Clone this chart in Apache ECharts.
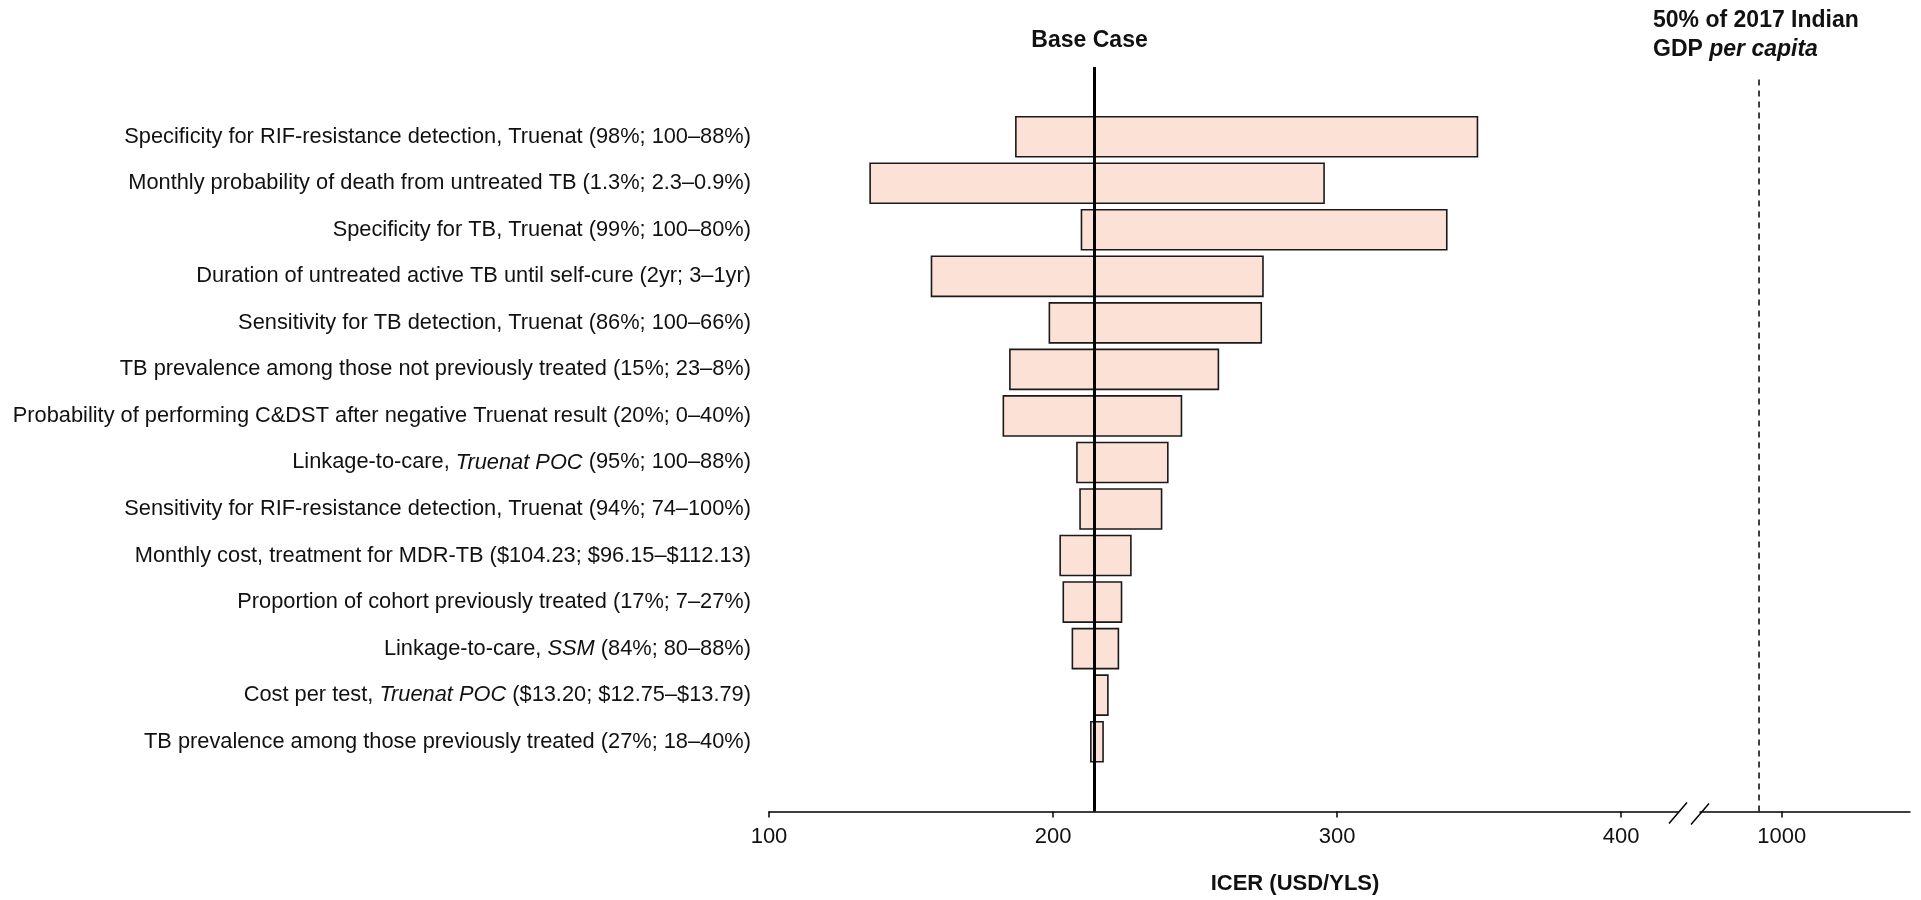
<!DOCTYPE html>
<html>
<head>
<meta charset="utf-8">
<script src="https://cdn.jsdelivr.net/npm/echarts@6/dist/echarts.min.js"></script>
<style>
  html, body { margin: 0; padding: 0; background: #fff; }
  #chart { width: 1921px; height: 900px; }
</style>
</head>
<body>
<div id="chart"></div>
<script>
// ---------------- data ----------------
const categories = [
  'Specificity for RIF-resistance detection, Truenat (98%; 100–88%)',
  'Monthly probability of death from untreated TB (1.3%; 2.3–0.9%)',
  'Specificity for TB, Truenat (99%; 100–80%)',
  'Duration of untreated active TB until self-cure (2yr; 3–1yr)',
  'Sensitivity for TB detection, Truenat (86%; 100–66%)',
  'TB prevalence among those not previously treated (15%; 23–8%)',
  'Probability of performing C&DST after negative Truenat result (20%; 0–40%)',
  'Linkage-to-care, Truenat POC (95%; 100–88%)',
  'Sensitivity for RIF-resistance detection, Truenat (94%; 74–100%)',
  'Monthly cost, treatment for MDR-TB ($104.23; $96.15–$112.13)',
  'Proportion of cohort previously treated (17%; 7–27%)',
  'Linkage-to-care, SSM (84%; 80–88%)',
  'Cost per test, Truenat POC ($13.20; $12.75–$13.79)',
  'TB prevalence among those previously treated (27%; 18–40%)'
];
const italicTerms = ['Truenat POC', 'SSM'];
const lowICER  = [186.9, 135.6, 210.0, 157.2, 198.7, 184.8, 182.5, 208.4, 209.5, 202.5, 203.6, 206.8, 214.7, 213.3];
const highICER = [349.4, 295.4, 338.6, 273.9, 273.3, 258.2, 245.2, 240.4, 238.2, 227.4, 224.1, 223.0, 219.3, 217.6];
const baseCaseICER = 214.6;
const gdpThreshold = 992;
const leftTicks = [100, 200, 300, 400];
const rightTicks = [1000];

// ---------------- chart ----------------
const FONT = '"Liberation Sans", Arial, Helvetica, sans-serif';
const TXT = '#111';
const chart = echarts.init(document.getElementById('chart'), null, { renderer: 'canvas' });

const yData = [' '].concat(categories, ['  ']);
const barData = categories.map((c, i) => [i + 1, lowICER[i], highICER[i]]);

function labelFormatter(v) {
  let s = v;
  italicTerms.forEach(t => { s = s.split(t).join('{it|' + t + '}'); });
  return s;
}

const axisLineStyle = { color: '#000', width: 1.5 };
const axisLabelStyle = { fontFamily: FONT, fontSize: 22, color: TXT, margin: 14,
                         formatter: function (v) { return String(v); } };

const option = {
  animation: false,
  backgroundColor: '#fff',
  grid: [
    { left: 769, top: 66.9, width: 909, height: 744.6, containLabel: false },
    { left: 1700, top: 77, width: 210, height: 734.5, containLabel: false }
  ],
  xAxis: [
    {
      gridIndex: 0, type: 'value', min: 100, max: 420,
      splitLine: { show: false },
      axisLine: { show: true, onZero: false, lineStyle: axisLineStyle },
      axisTick: { show: true, length: 6, lineStyle: axisLineStyle, customValues: leftTicks },
      axisLabel: Object.assign({ customValues: leftTicks }, axisLabelStyle)
    },
    {
      gridIndex: 1, type: 'value', min: 971.2, max: 1045.2,
      splitLine: { show: false },
      axisLine: { show: true, onZero: false, lineStyle: axisLineStyle },
      axisTick: { show: true, length: 6, lineStyle: axisLineStyle, customValues: rightTicks },
      axisLabel: Object.assign({ customValues: rightTicks }, axisLabelStyle)
    }
  ],
  yAxis: [
    {
      gridIndex: 0, type: 'category', inverse: true, data: yData,
      axisLine: { show: false }, axisTick: { show: false }, splitLine: { show: false },
      axisLabel: {
        margin: 18, fontFamily: FONT, fontSize: 21.8, color: TXT,
        formatter: labelFormatter,
        rich: { it: { fontFamily: FONT, fontSize: 21.8, color: TXT, fontStyle: 'italic' } }
      }
    },
    { gridIndex: 1, type: 'value', min: 0, max: 1, show: false }
  ],
  series: [
    {
      type: 'custom', xAxisIndex: 0, yAxisIndex: 0,
      data: barData,
      encode: { x: [1, 2], y: 0 },
      renderItem: function (params, api) {
        const yi = api.value(0);
        const p0 = api.coord([api.value(1), yi]);
        const p1 = api.coord([api.value(2), yi]);
        const h = api.size([0, 1])[1] * 0.86;
        return {
          type: 'rect',
          shape: { x: p0[0], y: p0[1] - h / 2, width: p1[0] - p0[0], height: h },
          style: { fill: '#FCE1D6', stroke: '#1a1a1a', lineWidth: 1.6 }
        };
      },
      markLine: {
        silent: true, symbol: ['none', 'none'], animation: false,
        label: { show: false },
        lineStyle: { color: '#000', width: 3, type: 'solid' },
        data: [{ xAxis: baseCaseICER }]
      }
    },
    {
      type: 'line', xAxisIndex: 1, yAxisIndex: 1, symbol: 'none', silent: true,
      data: [[gdpThreshold, 0], [gdpThreshold, 1]],
      lineStyle: { color: '#000', width: 1.5, type: [6, 5] }
    }
  ]
};
chart.setOption(option);

// annotations positioned from the axes
const baseX = chart.convertToPixel({ xAxisIndex: 0 }, baseCaseICER);
const gdpX = chart.convertToPixel({ xAxisIndex: 1 }, gdpThreshold);
const brkL = chart.convertToPixel({ xAxisIndex: 0 }, 420);
const brkR = chart.convertToPixel({ xAxisIndex: 1 }, 971.2);
const axisY = chart.convertToPixel({ yAxisIndex: 1 }, 0);

function slash(x, y) {
  return { type: 'line', shape: { x1: x - 9, y1: y + 11, x2: x + 9, y2: y - 10 },
           style: { stroke: '#000', lineWidth: 1.5 }, silent: true };
}

chart.setOption({
  graphic: [
    { type: 'text', x: baseX - 5, y: 41, silent: true,
      style: { text: 'Base Case', fontFamily: FONT, fontWeight: 'bold', fontSize: 23,
               fill: TXT, align: 'center', verticalAlign: 'middle' } },
    { type: 'text', x: gdpX - 106, y: 35, silent: true,
      style: {
        text: '{b|50% of 2017 Indian}\n{b|GDP }{bi|per capita}',
        align: 'left', verticalAlign: 'middle',
        rich: {
          b: { fontFamily: FONT, fontWeight: 'bold', fontSize: 23, fill: TXT, lineHeight: 29 },
          bi: { fontFamily: FONT, fontWeight: 'bold', fontStyle: 'italic', fontSize: 23, fill: TXT, lineHeight: 29 }
        }
      } },
    { type: 'text', x: 1295, y: 884, silent: true,
      style: { text: 'ICER (USD/YLS)', fontFamily: FONT, fontWeight: 'bold', fontSize: 22,
               fill: TXT, align: 'center', verticalAlign: 'middle' } },
    slash(brkL, axisY + 1),
    slash(brkR, axisY + 2)
  ]
});
</script>
</body>
</html>
